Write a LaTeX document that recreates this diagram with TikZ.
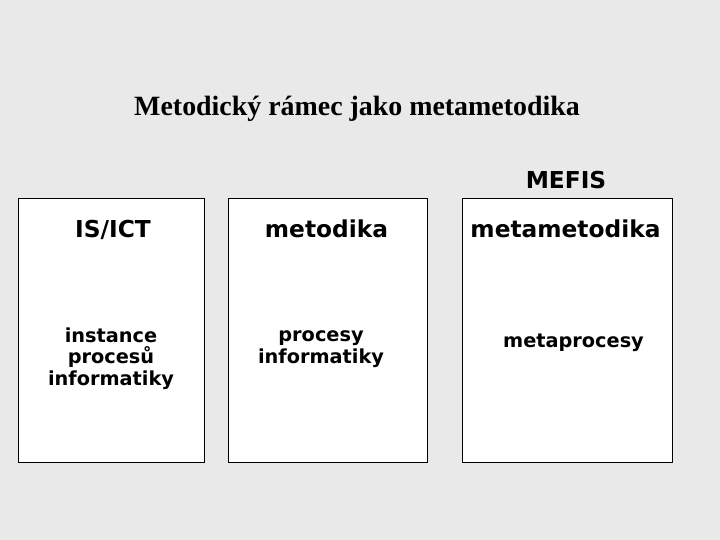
\documentclass[tikz,border=0pt]{standalone}
\usepackage{fontspec}
\setmainfont{DejaVu Sans}
\newfontfamily\titlefont{Liberation Serif}
\definecolor{bgc}{HTML}{E9E9E9}
\begin{document}
\begin{tikzpicture}[x=1pt,y=-1pt,
  box/.style={draw=black, line width=1pt, fill=white, inner sep=0pt, anchor=north west},
  big/.style={font=\bfseries\fontsize{23.3}{26}\selectfont, inner sep=0pt, anchor=base},
  small/.style={font=\bfseries\fontsize{19.3}{21.3}\selectfont, inner sep=0pt, anchor=base, align=center},
  titlestyle/.style={font=\titlefont\bfseries\fontsize{27.9}{30}\selectfont, inner sep=0pt, anchor=base}
]
\fill[bgc] (0,0) rectangle (720,540);
\useasboundingbox (0,0) rectangle (720,540);
\node[titlestyle] (title) at (357,116) {Metodický rámec jako metametodika};
\node[big] (mefis) at (566,189) {MEFIS};
\node[box, minimum width=186, minimum height=264] (b1) at (18,198) {};
\node[box, minimum width=199, minimum height=264] (b2) at (228,198) {};
\node[box, minimum width=210, minimum height=264] (b3) at (462,198) {};
\node[big] (h1) at (113,237) {IS/ICT};
\node[big] (h2) at (326.5,237) {metodika};
\node[big] (h3) at (565.5,237) {metametodika};
\node[small] (t1) at (111,385) {instance\\procesů\\informatiky};
\node[small] (t2) at (321,363) {procesy\\informatiky};
\node[small] (t3) at (573.5,347) {metaprocesy};
\end{tikzpicture}
\end{document}
